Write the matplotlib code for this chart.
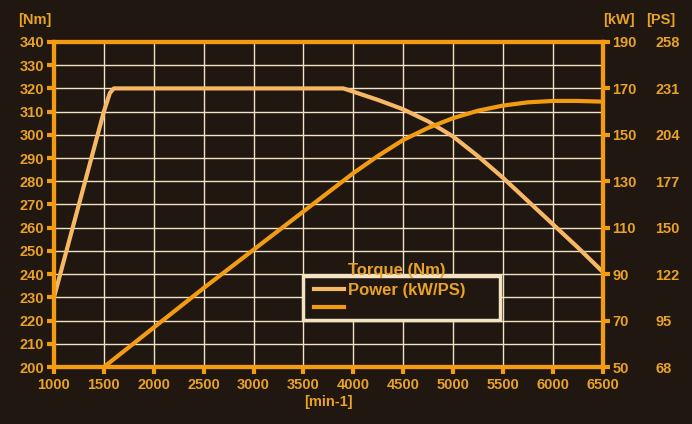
import matplotlib
matplotlib.use("Agg")
import matplotlib.pyplot as plt
from matplotlib.patches import Rectangle
from matplotlib.lines import Line2D

# data
torque_rpm = [1000, 1250, 1500, 1560, 1600, 2000, 3000, 3900, 4000, 4250, 4500, 4750, 5000, 5250,
              5500, 5750, 6000, 6250, 6500]
torque_nm = [230, 270, 310, 318, 320, 320, 320, 320, 318.6, 315, 311, 305.8, 299.3, 290.8,
             281.5, 271.5, 261.5, 251.5, 241]

power_rpm = [1500, 2000, 2500, 3000, 3500, 4000, 4250, 4500, 4750, 5000, 5250, 5500, 5750, 6000,
             6250, 6500]
power_kw = [50, 67, 84, 100.5, 117, 133.5, 141, 147.8, 153, 157.2, 160.4, 162.6, 164, 164.6,
            164.6, 164.3]

nm_ticks = list(range(200, 341, 10))
kw_ticks = [50, 70, 90, 110, 130, 150, 170, 190]
ps_labels = ["68", "95", "122", "150", "177", "204", "231", "258"]
rpm_ticks = list(range(1000, 6501, 500))

bg = "#201710"
orange = "#f39c12"
light = "#f6b864"
txt = "#e9a228"
grid = "#f3e3c3"

plt.rcParams['font.family'] = ['Liberation Sans', 'DejaVu Sans']
plt.rcParams['font.weight'] = 'bold'

fig = plt.figure(figsize=(6.92, 4.24), dpi=100, facecolor=bg)
ax = fig.add_axes([0.078, 0.1344, 0.793, 0.7666], facecolor=bg)

ax.set_xlim(1000, 6500)
ax.set_ylim(200, 340)
ax.set_xticks(rpm_ticks)
ax.set_yticks(nm_ticks)
ax.grid(True, color=grid, linewidth=1, zorder=0)

# power on the kW axis
ax2 = ax.twinx()
ax2.set_ylim(50, 190)
ax2.set_yticks(kw_ticks)
ax2.plot(power_rpm, power_kw, color=orange, linewidth=3, solid_capstyle='butt', zorder=3)
ax.plot(torque_rpm, torque_nm, color=light, linewidth=3, zorder=4)
ax2.set_zorder(ax.get_zorder() + 1)
ax2.patch.set_visible(False)

ax3 = ax.twinx()
ax3.set_ylim(50, 190)
ax3.set_yticks(kw_ticks)
ax3.set_yticklabels(ps_labels)
ax3.tick_params(axis='y', length=0, pad=38, labelcolor=txt, labelsize=10.5)
for s in ax3.spines.values():
    s.set_visible(False)

for a in (ax, ax2):
    for s in a.spines.values():
        s.set_color(orange)
        s.set_linewidth(3)
    a.tick_params(colors=orange, labelcolor=txt, labelsize=10.5, width=3, length=5, pad=2)

ax.tick_params(axis='x', pad=3)

fig.text(0.051, 0.953, "[Nm]", color=txt, fontsize=10.5, ha='center', va='center')
fig.text(0.894, 0.953, "[kW]", color=txt, fontsize=10.5, ha='center', va='center')
fig.text(0.955, 0.953, "[PS]", color=txt, fontsize=10.5, ha='center', va='center')
fig.text(0.474, 0.051, "[min-1]", color=txt, fontsize=10.5, ha='center', va='center')

# legend box, drawn by hand because labels sit above their samples
fig.patches.append(Rectangle((303 / 692, 1 - 320 / 424), 197 / 692, 44 / 424,
                             transform=fig.transFigure, facecolor=bg,
                             edgecolor=grid, linewidth=2.5, zorder=5))
fig.lines.append(Line2D([314 / 692, 344 / 692], [1 - 289 / 424] * 2, transform=fig.transFigure,
                        color=light, linewidth=3, zorder=6))
fig.lines.append(Line2D([314 / 692, 344 / 692], [1 - 307 / 424] * 2, transform=fig.transFigure,
                        color=orange, linewidth=3, zorder=6))
fig.text(348 / 692, 1 - 270 / 424, "Torque (Nm)", color=txt, fontsize=12, va='center', zorder=7)
fig.text(348 / 692, 1 - 290 / 424, "Power (kW/PS)", color=txt, fontsize=12, va='center', zorder=7)

fig.savefig("out.png", dpi=100, facecolor=bg)
